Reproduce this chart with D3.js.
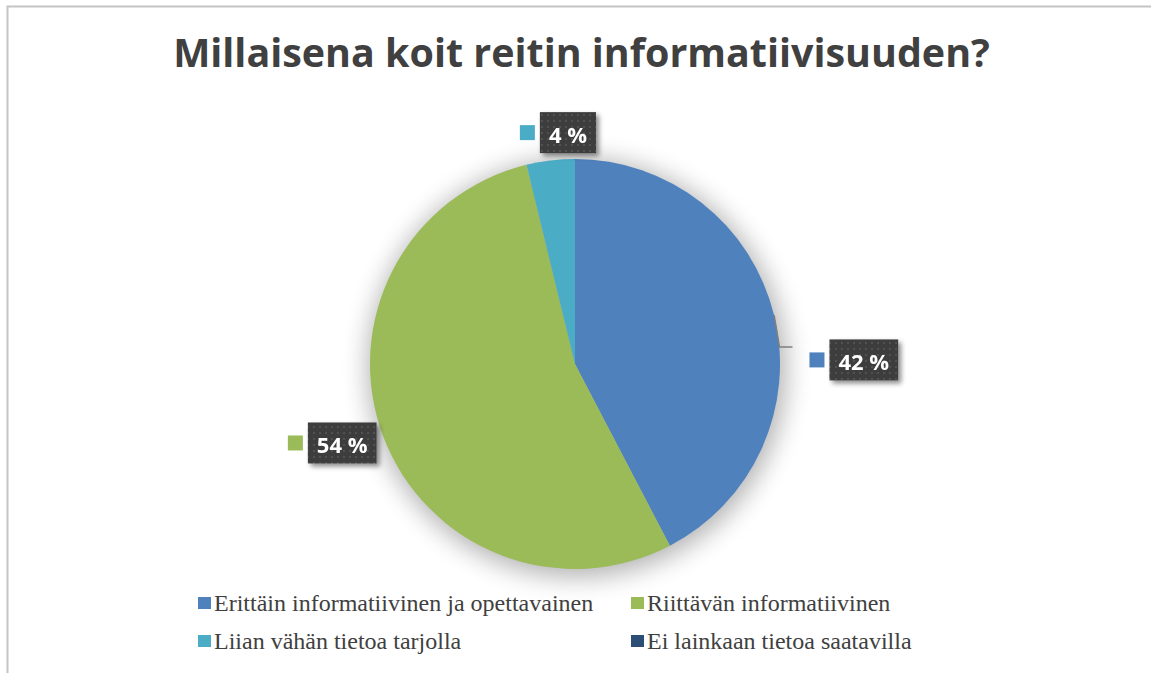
<!DOCTYPE html>
<html>
<head>
<meta charset="utf-8">
<script src="https://cdn.jsdelivr.net/npm/d3@7"></script>
<style>
    body { margin: 0; background: #fff; }
    svg { display: block; }
</style>
</head>
<body>
<div id="chart"></div>
<script>
// data
const categories = [
    "Erittäin informatiivinen ja opettavainen",
    "Riittävän informatiivinen",
    "Liian vähän tietoa tarjolla",
    "Ei lainkaan tietoa saatavilla"
];
const shares = [42.3, 53.8, 3.8, 0];
const shareLabels = ["42 %", "54 %", "4 %", ""];
const colors = ["#4F81BD", "#9BBB59", "#4BACC6", "#2C4D75"];
const title = "Millaisena koit reitin informatiivisuuden?";

const width = 1151, height = 673;
const cx = 575, cy = 364, radius = 205;

// small layout nudges for the labels (Excel moved them by hand)
const labelNudge = [[14, 50], [14, -1], [10, -6]];

const svg = d3.select("#chart").append("svg")
    .attr("width", width)
    .attr("height", height);

const defs = svg.append("defs");

// soft halo round the pie
defs.append("filter")
    .attr("id", "halo")
    .attr("x", "-30%").attr("y", "-30%").attr("width", "160%").attr("height", "160%")
    .append("feGaussianBlur")
    .attr("stdDeviation", 13);

// shadow for label boxes
let sh = defs.append("filter")
    .attr("id", "boxShadow")
    .attr("x", "-20%").attr("y", "-20%").attr("width", "150%").attr("height", "160%");
sh.append("feDropShadow")
    .attr("dx", 3).attr("dy", 3)
    .attr("stdDeviation", 2.5)
    .attr("flood-color", "#000")
    .attr("flood-opacity", 0.45);

// dotted pattern of the label boxes
let pat = defs.append("pattern")
    .attr("id", "dots")
    .attr("patternUnits", "userSpaceOnUse")
    .attr("width", 6).attr("height", 6);
pat.append("rect").attr("width", 6).attr("height", 6).attr("fill", "#3d3d3d");
pat.append("circle").attr("cx", 3).attr("cy", 3).attr("r", 1).attr("fill", "#575757");

// outer frame (only top and left visible)
svg.append("path")
    .attr("d", d3.line()([[7.5, height + 2], [7.5, 6.5], [width + 2, 6.5]]))
    .attr("fill", "none")
    .attr("stroke", "#c4c4c4")
    .attr("stroke-width", 2);

// title, fitted to the width seen in the picture
let titleText = svg.append("text")
    .attr("x", 581.5)
    .attr("y", 67)
    .attr("text-anchor", "middle")
    .attr("font-family", "'Open Sans', sans-serif")
    .attr("font-weight", "bold")
    .attr("font-size", 34)
    .attr("fill", "#404040")
    .text(title);
let tw = titleText.node().getComputedTextLength();
titleText.attr("font-size", 34 * 817 / tw);

// pie
let pie = d3.pie().sort(null).value(d => d)(shares);
let arc = d3.arc().innerRadius(0).outerRadius(radius);

let g = svg.append("g").attr("transform", "translate(" + cx + "," + cy + ")");

g.append("circle")
    .attr("cx", 2).attr("cy", 4)
    .attr("r", radius + 4)
    .attr("fill", "#000")
    .attr("opacity", 0.3)
    .attr("filter", "url(#halo)");

g.selectAll("path.slice")
    .data(pie)
    .join("path")
    .attr("class", "slice")
    .attr("d", arc)
    .attr("fill", (d, i) => colors[i]);

// data labels
let labelRadius = radius + 22;
pie.forEach((d, i) => {
    if (!shareLabels[i]) return;

    let mid = (d.startAngle + d.endAngle) / 2;
    let ax = Math.sin(mid) * labelRadius;
    let ay = -Math.cos(mid) * labelRadius;

    let lg = g.append("g");
    let box = lg.append("g").attr("filter", "url(#boxShadow)");
    let rect = box.append("rect").attr("fill", "url(#dots)");
    let txt = box.append("text")
        .attr("font-family", "'Open Sans', sans-serif")
        .attr("font-weight", "bold")
        .attr("font-size", 22)
        .attr("fill", "#fff")
        .attr("dominant-baseline", "central")
        .text(shareLabels[i]);

    let textW = txt.node().getComputedTextLength();
    let boxW = textW + 18, boxH = 41;
    let totalW = 15 + 5 + boxW;

    let left;
    if (Math.abs(Math.sin(mid)) < 0.3) left = ax - totalW / 2;
    else if (Math.sin(mid) > 0) left = ax;
    else left = ax - totalW;

    let nudge = labelNudge[i] || [0, 0];
    left += nudge[0];
    let my = ay + nudge[1];

    lg.append("rect")
        .attr("x", left).attr("y", my - 7.5)
        .attr("width", 15).attr("height", 15)
        .attr("fill", colors[i]);
    rect.attr("x", left + 20).attr("y", my - boxH / 2)
        .attr("width", boxW).attr("height", boxH);
    txt.attr("x", left + 29).attr("y", my + 1);

    // leader line when the label was moved far from its slice
    if (Math.hypot(nudge[0], nudge[1]) > 30) {
        let ex = Math.sin(mid) * radius, ey = -Math.cos(mid) * radius;
        g.append("path")
            .attr("d", d3.line()([[ex, ey], [left - 30, my - 13], [left - 17, my - 13]]))
            .attr("fill", "none")
            .attr("stroke", "#7f7f7f")
            .attr("stroke-width", 1.5);
    }
});

// legend
let legendCols = [198, 631];
let legendRows = [603, 641];
let legend = svg.append("g");
categories.forEach((c, i) => {
    let x = legendCols[i % 2], y = legendRows[Math.floor(i / 2)];
    legend.append("rect")
        .attr("x", x).attr("y", y - 6)
        .attr("width", 13).attr("height", 12)
        .attr("fill", colors[i]);
    legend.append("text")
        .attr("x", x + 16)
        .attr("y", y + 8)
        .attr("font-family", "'Liberation Serif', 'Times New Roman', serif")
        .attr("font-size", 24)
        .attr("fill", "#404040")
        .text(c);
});
</script>
</body>
</html>
